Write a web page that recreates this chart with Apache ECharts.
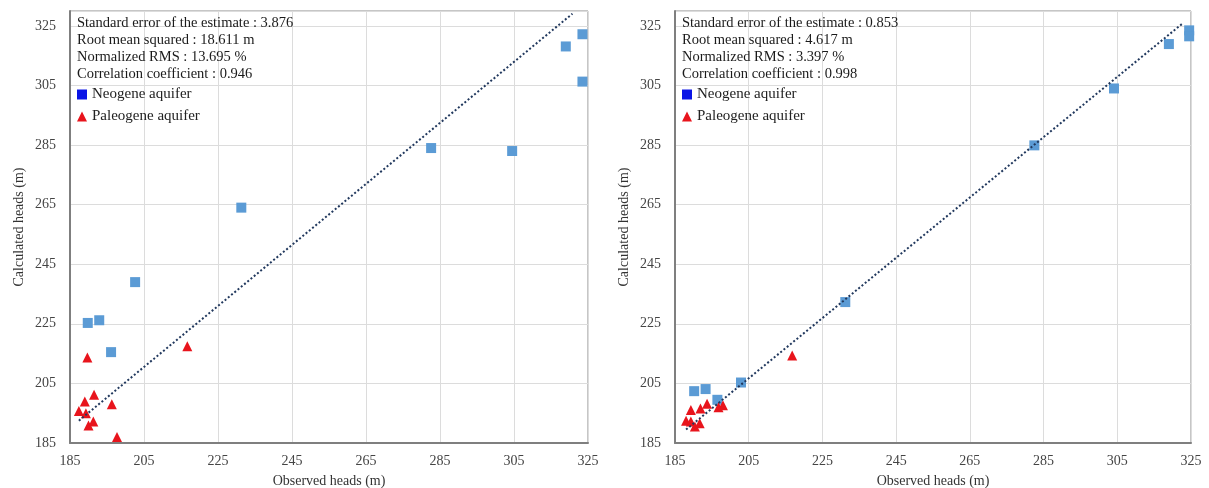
<!DOCTYPE html>
<html>
<head>
<meta charset="utf-8">
<script src="https://cdn.jsdelivr.net/npm/echarts@6/dist/echarts.min.js"></script>
<style>html,body{margin:0;padding:0;background:#fff;}#c{width:1209px;height:488px;}</style>
</head>
<body>
<div id="c"></div>
<script>
// ---- data (left panel) ----
const obsNeogeneA  = [323.5, 319.0, 323.5, 282.6, 304.5, 231.3, 202.6, 189.8, 192.9, 196.1];
const calcNeogeneA = [322.2, 318.1, 306.3, 284.0, 283.0, 264.0, 239.0, 225.3, 226.2, 215.5];
const obsPaleogeneA  = [189.7, 216.7, 191.5, 189.0, 196.3, 187.4, 189.3, 191.3, 190.0, 197.7];
const calcPaleogeneA = [213.7, 217.5, 201.2, 198.9, 198.0, 195.7, 195.0, 192.2, 190.9, 187.0];
const trendA = [[187.4, 192.5], [320.8, 329.1]];
const statsA = ["Standard error of the estimate : 3.876", "Root mean squared : 18.611 m", "Normalized RMS : 13.695 %", "Correlation coefficient : 0.946"];

// ---- data (right panel) ----
const obsNeogeneB  = [324.5, 324.5, 319.0, 304.1, 282.5, 231.2, 202.9, 190.2, 193.3, 196.5];
const calcNeogeneB = [323.5, 321.5, 318.9, 304.0, 284.9, 232.3, 205.3, 202.4, 203.1, 199.5];
const obsPaleogeneB  = [216.8, 189.3, 191.9, 193.7, 196.8, 198.0, 188.0, 189.3, 190.4, 191.7];
const calcPaleogeneB = [214.4, 196.1, 196.6, 198.2, 197.0, 197.7, 192.5, 192.2, 190.5, 191.6];
const trendB = [[188.0, 189.5], [322.7, 325.8]];
const statsB = ["Standard error of the estimate : 0.853", "Root mean squared : 4.617 m", "Normalized RMS : 3.397 %", "Correlation coefficient : 0.998"];

const seriesNames = ["Neogene aquifer", "Paleogene aquifer"];
const axisTitleX = "Observed heads (m)";
const axisTitleY = "Calculated heads (m)";

const FONT = "Liberation Serif";
const pair = (xs, ys) => xs.map((x, i) => [x, ys[i]]);

function xAxis(idx) {
  return {
    gridIndex: idx, type: 'value', min: 185, max: 325, interval: 20,
    name: axisTitleX, nameLocation: 'middle', nameGap: 31,
    nameTextStyle: { fontFamily: FONT, fontSize: 14, color: '#333' },
    axisLine: { show: true, lineStyle: { color: '#7f7f7f', width: 2 } },
    axisTick: { show: false },
    axisLabel: { fontFamily: FONT, fontSize: 14, color: '#444', margin: 11 },
    splitLine: { show: true, lineStyle: { color: '#dcdcdc', width: 1 } }
  };
}
function yAxis(idx) {
  return {
    gridIndex: idx, type: 'value', min: 185, max: 330, interval: 20,
    name: axisTitleY, nameLocation: 'middle', nameGap: 44,
    nameTextStyle: { fontFamily: FONT, fontSize: 14, color: '#333' },
    axisLine: { show: true, lineStyle: { color: '#7f7f7f', width: 2 } },
    axisTick: { show: false },
    axisLabel: { fontFamily: FONT, fontSize: 14, color: '#444', margin: 14,
      formatter: v => (v > 325 ? '' : String(v)) },
    splitLine: { show: true, lineStyle: { color: '#dcdcdc', width: 1 } }
  };
}
function legend(left) {
  return {
    left: left, top: 87, orient: 'vertical', padding: 0, itemGap: 7,
    itemWidth: 10, itemHeight: 10,
    textStyle: { fontFamily: FONT, fontSize: 15, color: '#222' },
    data: [
      { name: seriesNames[0], icon: 'rect', itemStyle: { color: '#0a14e6' } },
      { name: seriesNames[1], icon: 'triangle', itemStyle: { color: '#e8141c' } }
    ]
  };
}
function title(left, lines) {
  return {
    text: lines.join('\n'), left: left, top: 15, padding: 0,
    textStyle: { fontFamily: FONT, fontSize: 14.5, lineHeight: 17, fontWeight: 'normal', color: '#1a1a1a' }
  };
}
function scatterSeries(idx, name, data, symbol, color, size) {
  return { type: 'scatter', name: name, xAxisIndex: idx, yAxisIndex: idx, data: data,
    symbol: symbol, symbolSize: size, itemStyle: { color: color, opacity: 1 }, z: 3 };
}
function trendSeries(idx, data) {
  return { type: 'line', name: 'trend', xAxisIndex: idx, yAxisIndex: idx, data: data,
    symbol: 'none', silent: true, z: 4,
    lineStyle: { color: '#22395e', width: 2, type: [2, 2.2] } };
}

const gridBase = { top: 11, bottom: 45, show: true, borderColor: '#8c8c8c', borderWidth: 1,
  backgroundColor: 'transparent', containLabel: false, outerBoundsMode: 'none' };

const chart = echarts.init(document.getElementById('c'), null, { renderer: 'canvas' });
chart.setOption({
  animation: false,
  backgroundColor: '#ffffff',
  title: [title(77, statsA), title(682, statsB)],
  legend: [legend(77), legend(682)],
  grid: [
    Object.assign({ left: 70, right: 621 }, gridBase),
    Object.assign({ left: 675, right: 18 }, gridBase)
  ],
  xAxis: [xAxis(0), xAxis(1)],
  yAxis: [yAxis(0), yAxis(1)],
  series: [
    scatterSeries(0, seriesNames[0], pair(obsNeogeneA, calcNeogeneA), 'rect', '#5b9bd5', 10),
    scatterSeries(0, seriesNames[1], pair(obsPaleogeneA, calcPaleogeneA), 'triangle', '#e8141c', 10),
    trendSeries(0, trendA),
    scatterSeries(1, seriesNames[0], pair(obsNeogeneB, calcNeogeneB), 'rect', '#5b9bd5', 10),
    scatterSeries(1, seriesNames[1], pair(obsPaleogeneB, calcPaleogeneB), 'triangle', '#e8141c', 10),
    trendSeries(1, trendB)
  ]
});
</script>
</body>
</html>
